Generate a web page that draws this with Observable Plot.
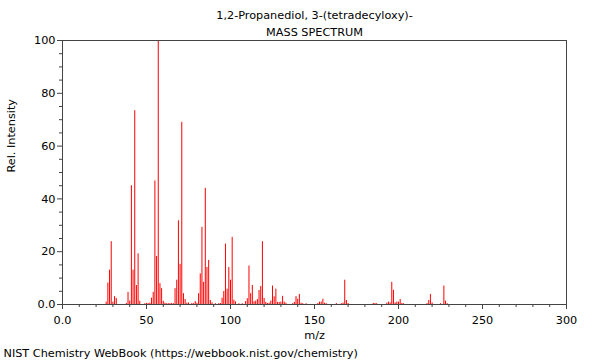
<!DOCTYPE html>
<html><head><meta charset="utf-8">
<script src="https://cdn.jsdelivr.net/npm/d3@7"></script>
<script src="https://cdn.jsdelivr.net/npm/@observablehq/plot@0.6"></script>
<style>html,body{margin:0;padding:0;background:#fff;} svg{display:block;}</style>
</head><body><div id="chart"></div>
<script>
const title = "1,2-Propanediol, 3-(tetradecyloxy)-";
const subtitle = "MASS SPECTRUM";
const xLabel = "m/z";
const yLabel = "Rel. Intensity";
const footer = "NIST Chemistry WebBook (https://webbook.nist.gov/chemistry)";

const mz = [26,27,28,29,30,31,32,38,39,40,41,42,43,44,45,46,49,50,51,52,53,54,55,56,57,58,59,60,61,62,63,64,65,66,
  67,68,69,70,71,72,73,74,75,77,78,79,80,81,82,83,84,85,86,87,88,89,91,93,94,95,96,97,98,99,100,101,102,103,
  105,107,109,110,111,112,113,114,115,116,117,118,119,120,121,122,123,124,125,126,127,128,129,130,131,132,133,
  137,138,139,140,141,142,143,145,152,153,154,155,156,157,163,166,167,168,169,170,185,186,187,193,194,195,196,197,
  198,199,200,201,202,203,217,218,219,220,225,227,228,229];
const intensity = [0.9,8.1,13.0,23.8,0.9,3.0,2.3,0.4,4.6,1.3,45.0,13.0,73.4,7.2,19.2,1.2,0.3,0.4,0.4,0.5,2.4,4.6,46.8,18.2,100,7.9,6.0,1.2,0.5,0.3,0.3,0.3,0.4,0.3,
  6.0,9.2,31.7,15.2,69.0,4.1,1.9,0.5,0.6,0.4,0.3,1.1,0.5,4.1,11.6,29.2,8.4,44.0,14.0,16.7,1.5,0.6,0.3,0.3,0.4,2.4,4.9,22.9,5.8,14.0,9.2,25.4,1.6,1.0,
  0.3,0.3,1.1,2.2,14.6,4.1,7.2,1.0,1.3,1.9,5.3,6.8,23.8,2.3,0.8,0.4,0.5,1.3,7.0,2.9,5.8,0.8,0.8,0.9,3.1,0.9,0.5,
  0.3,0.8,3.0,2.0,3.8,0.5,0.3,0.3,0.4,0.9,0.9,2.0,0.5,0.3,0.4,0.3,0.5,9.2,1.5,0.4,0.4,0.4,0.3,0.5,0.9,0.6,8.4,5.4,
  0.6,0.9,0.9,1.9,0.4,0.3,0.4,1.5,3.8,0.6,0.3,7.0,1.3,0.3];

const xTicks = [0,50,100,150,200,250,300];
const xTickLabels = ["0.0","50","100","150","200","250","300"];
const yTicks = [0,20,40,60,80,100];
const yTickLabels = ["0.0","20","40","60","80","100"];
const xMinorStep = 10;
const yMinorStep = 5;

const peaks = mz.map((m, i) => ({mz: m, I: intensity[i]}));
const xMinor = d3.range(0, 301, xMinorStep).filter(v => !xTicks.includes(v));
const yMinor = d3.range(0, 101, yMinorStep).filter(v => !yTicks.includes(v));

const fs = 11.25;
const chart = Plot.plot({
  width: 600, height: 360,
  marginLeft: 62, marginRight: 34, marginTop: 40, marginBottom: 56,
  style: {fontFamily: "DejaVu Sans", fontSize: fs + "px", background: "white", color: "black", overflow: "visible"},
  x: {domain: [0, 300]},
  y: {domain: [0, 100]},
  marks: [
    Plot.ruleX(peaks, {x: "mz", y1: 0, y2: "I", stroke: "red", strokeWidth: 1}),
    Plot.frame({stroke: "#444"}),
    Plot.axisX({ticks: xTicks, tickFormat: d => xTickLabels[xTicks.indexOf(d)], tickSize: 5, tickPadding: 6, label: null, stroke: "#444", fill: "black", fontSize: fs}),
    Plot.axisX({ticks: xMinor, tickFormat: () => "", tickSize: 3, label: null, stroke: "#444"}),
    Plot.axisY({ticks: yTicks, tickFormat: d => yTickLabels[yTicks.indexOf(d)], tickSize: 5, tickPadding: 2, label: null, stroke: "#444", fill: "black", fontSize: fs}),
    Plot.axisY({ticks: yMinor, tickFormat: () => "", tickSize: 3, label: null, stroke: "#444"}),
    Plot.text([title], {frameAnchor: "top", dy: -30, text: d => d, fill: "black", fontSize: fs}),
    Plot.text([subtitle], {frameAnchor: "top", dy: -13, text: d => d, fill: "black", fontSize: fs}),
    Plot.text([xLabel], {frameAnchor: "bottom", dy: 34, text: d => d, fill: "black", fontSize: fs}),
    Plot.text([yLabel], {frameAnchor: "left", dx: -51, rotate: -90, text: d => d, fill: "black", fontSize: fs}),
    Plot.text([footer], {frameAnchor: "bottom-left", dx: -59, dy: 52, textAnchor: "start", text: d => d, fill: "black", fontSize: fs})
  ]
});
document.getElementById("chart").appendChild(chart);
</script>
</body></html>
